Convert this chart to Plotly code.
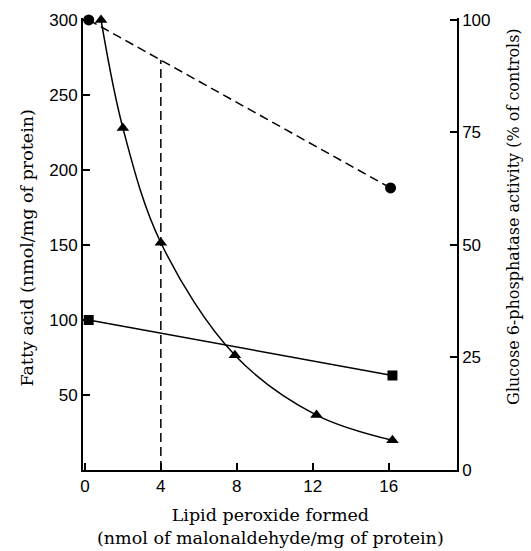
import numpy as np
import plotly.graph_objects as go

# Data
circle_x = [0.2, 16.1]          # fatty acid (dashed), left axis
circle_y = [300, 188]
square_x = [0.2, 16.2]          # fatty acid (solid), left axis
square_y = [100, 63]
tri_x = [0.85, 2.0, 4.0, 7.9, 12.2, 16.2]   # glucose 6-phosphatase, right axis (%)
tri_y = [100, 76, 50.5, 25.5, 12.2, 6.6]

x_ticks = [0, 4, 8, 12, 16]
y_ticks = [50, 100, 150, 200, 250, 300]
y2_ticks = [0, 25, 50, 75, 100]

x_marker = 4
y_at_marker = float(np.interp(x_marker, circle_x, circle_y))

serif = "DejaVu Serif"
sans = "Liberation Sans"

fig = go.Figure()

fig.add_trace(go.Scatter(x=[x_marker, x_marker], y=[0, y_at_marker], mode="lines",
                         line=dict(color="black", width=1.5, dash="9px,5px"),
                         showlegend=False, cliponaxis=False))
fig.add_trace(go.Scatter(x=circle_x, y=circle_y, mode="lines+markers",
                         line=dict(color="black", width=1.5, dash="9px,5px"),
                         marker=dict(symbol="circle", size=11, color="black"),
                         showlegend=False, cliponaxis=False))
fig.add_trace(go.Scatter(x=square_x, y=square_y, mode="lines+markers",
                         line=dict(color="black", width=1.5),
                         marker=dict(symbol="square", size=10, color="black"),
                         showlegend=False, cliponaxis=False))
fig.add_trace(go.Scatter(x=tri_x, y=tri_y, mode="lines+markers", yaxis="y2",
                         line=dict(color="black", width=1.5, shape="spline", smoothing=1.0),
                         marker=dict(symbol="triangle-up", size=11, color="black"),
                         showlegend=False, cliponaxis=False))

fig.update_layout(
    width=531, height=551,
    margin=dict(l=83, r=74, t=18, b=81),
    paper_bgcolor="white", plot_bgcolor="white",
    xaxis=dict(range=[-0.1, 19.6], tickvals=x_ticks, ticktext=[str(v) for v in x_ticks],
               ticks="inside", ticklen=7, tickwidth=1.5, tickcolor="black",
               showline=True, linecolor="black", linewidth=2, showgrid=False, zeroline=False,
               tickfont=dict(family=sans, size=17, color="black")),
    yaxis=dict(range=[0, 301.3], tickvals=y_ticks, ticktext=[str(v) for v in y_ticks],
               ticks="inside", ticklen=7, tickwidth=1.5, tickcolor="black",
               showline=True, linecolor="black", linewidth=2, showgrid=False, zeroline=False,
               tickfont=dict(family=sans, size=17, color="black")),
    yaxis2=dict(range=[0, 100.43], tickvals=y2_ticks, ticktext=[str(v) for v in y2_ticks],
                overlaying="y", side="right", anchor="x",
                ticks="inside", ticklen=7, tickwidth=1.5, tickcolor="black",
                showline=True, linecolor="black", linewidth=1.5, showgrid=False, zeroline=False,
                tickfont=dict(family=sans, size=17, color="black")),
    annotations=[
        dict(text="Fatty acid (nmol/mg of protein)", xref="paper", yref="paper",
             x=-56/374, y=0.49, textangle=-90, showarrow=False,
             xanchor="center", yanchor="middle",
             font=dict(family=serif, size=17.5, color="black")),
        dict(text="Glucose 6-phosphatase activity (% of controls)", xref="paper", yref="paper",
             x=1 + 57/374, y=0.56, textangle=-90, showarrow=False,
             xanchor="center", yanchor="middle",
             font=dict(family=serif, size=16, color="black")),
        dict(text="Lipid peroxide formed<br>(nmol of malonaldehyde/mg of protein)",
             xref="paper", yref="paper", x=(270-83)/374, y=-56/452, showarrow=False,
             xanchor="center", yanchor="middle", align="center",
             font=dict(family=serif, size=17.5, color="black")),
    ],
)

fig.write_html("out.html")
